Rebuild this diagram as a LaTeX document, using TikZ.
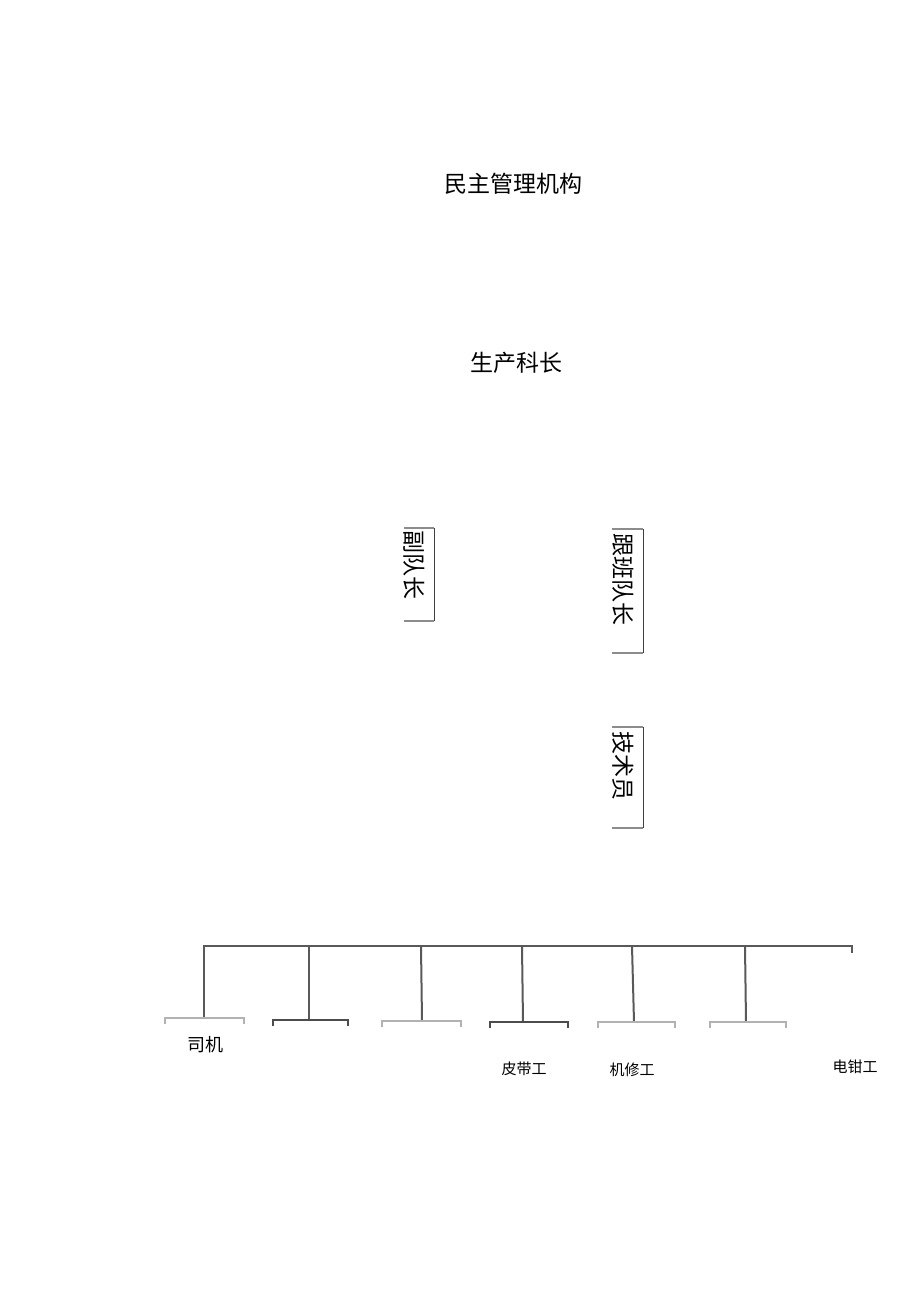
\documentclass[tikz,border=0pt]{standalone}
\usepackage{fontspec}
\newfontfamily\cjk{Noto Sans CJK SC}
\tikzset{
  lbl/.style={font=\cjk\fontsize{23}{23}\selectfont, inner sep=0pt, anchor=center},
  vlbl/.style={font=\cjk\fontsize{23}{23}\selectfont, inner sep=0pt, rotate=-90, anchor=center},
  small/.style={font=\cjk\fontsize{15}{15}\selectfont, inner sep=0pt, anchor=center},
  frame/.style={draw=black!75, line width=0.8pt},
  frametop/.style={draw=black!45, line width=1.2pt},
  bar/.style={draw=black!65, line width=2pt},
  darkbox/.style={draw=black!70, line width=2pt},
  lightbox/.style={draw=black!30, line width=1.6pt},
}
\begin{document}
\begin{tikzpicture}[x=1pt,y=-1pt]
\useasboundingbox (0,0) rectangle (920,1301);
% top titles
\node[lbl] (mz) at (513,184) {民主管理机构};
\node[lbl] (sc) at (516,363) {生产科长};
% vertical labels with partial frames
\node[vlbl] (fdz) at (414,565) {副队长};
\draw[frametop] (404,528) -- (434,528);
\draw[frame] (434,528) -- (434,621);
\draw[frametop] (404,621) -- (434,621);

\node[vlbl] (gbdz) at (623,579) {跟班队长};
\draw[frametop] (612,529) -- (643,529);
\draw[frame] (643,529) -- (643,653);
\draw[frametop] (612,653) -- (643,653);

\node[vlbl] (jsy) at (623,766) {技术员};
\draw[frametop] (612,727) -- (643,727);
\draw[frame] (643,727) -- (643,828);
\draw[frametop] (612,828) -- (643,828);

% bus bar
\coordinate (b0) at (203,946);
\coordinate (b1) at (852,946);
\coordinate (b2) at (852,953);
\draw[bar] (b0) -- (b1) -- (b2);
% drop lines and boxes
\coordinate (t1) at (204,946); \coordinate (d1) at (204,1018);
\coordinate (t2) at (309,946); \coordinate (d2) at (309,1020);
\coordinate (t3) at (421,946); \coordinate (d3) at (422,1021);
\coordinate (t4) at (522,946); \coordinate (d4) at (523,1022);
\coordinate (t5) at (632,946); \coordinate (d5) at (634,1022);
\coordinate (t6) at (745,946); \coordinate (d6) at (746,1022);
\foreach \i in {1,...,6} {\draw[bar] (t\i) -- (d\i);}
\draw[lightbox] (165,1024) -- (165,1018) -- (244,1018) -- (244,1024);
\draw[darkbox] (273,1026) -- (273,1020) -- (348,1020) -- (348,1026);
\draw[lightbox] (382,1027) -- (382,1021) -- (461,1021) -- (461,1027);
\draw[darkbox] (490,1028) -- (490,1022) -- (568,1022) -- (568,1028);
\draw[lightbox] (598,1028) -- (598,1022) -- (675,1022) -- (675,1028);
\draw[lightbox] (710,1028) -- (710,1022) -- (786,1022) -- (786,1028);
% labels
\node[font=\cjk\fontsize{18}{18}\selectfont, inner sep=0pt] (sj) at (205,1045) {司机};
\node[small] (pdg) at (524,1069) {皮带工};
\node[small] (jxg) at (632,1070) {机修工};
\node[small] (ddg) at (855,1067) {电钳工};
\end{tikzpicture}
\end{document}
